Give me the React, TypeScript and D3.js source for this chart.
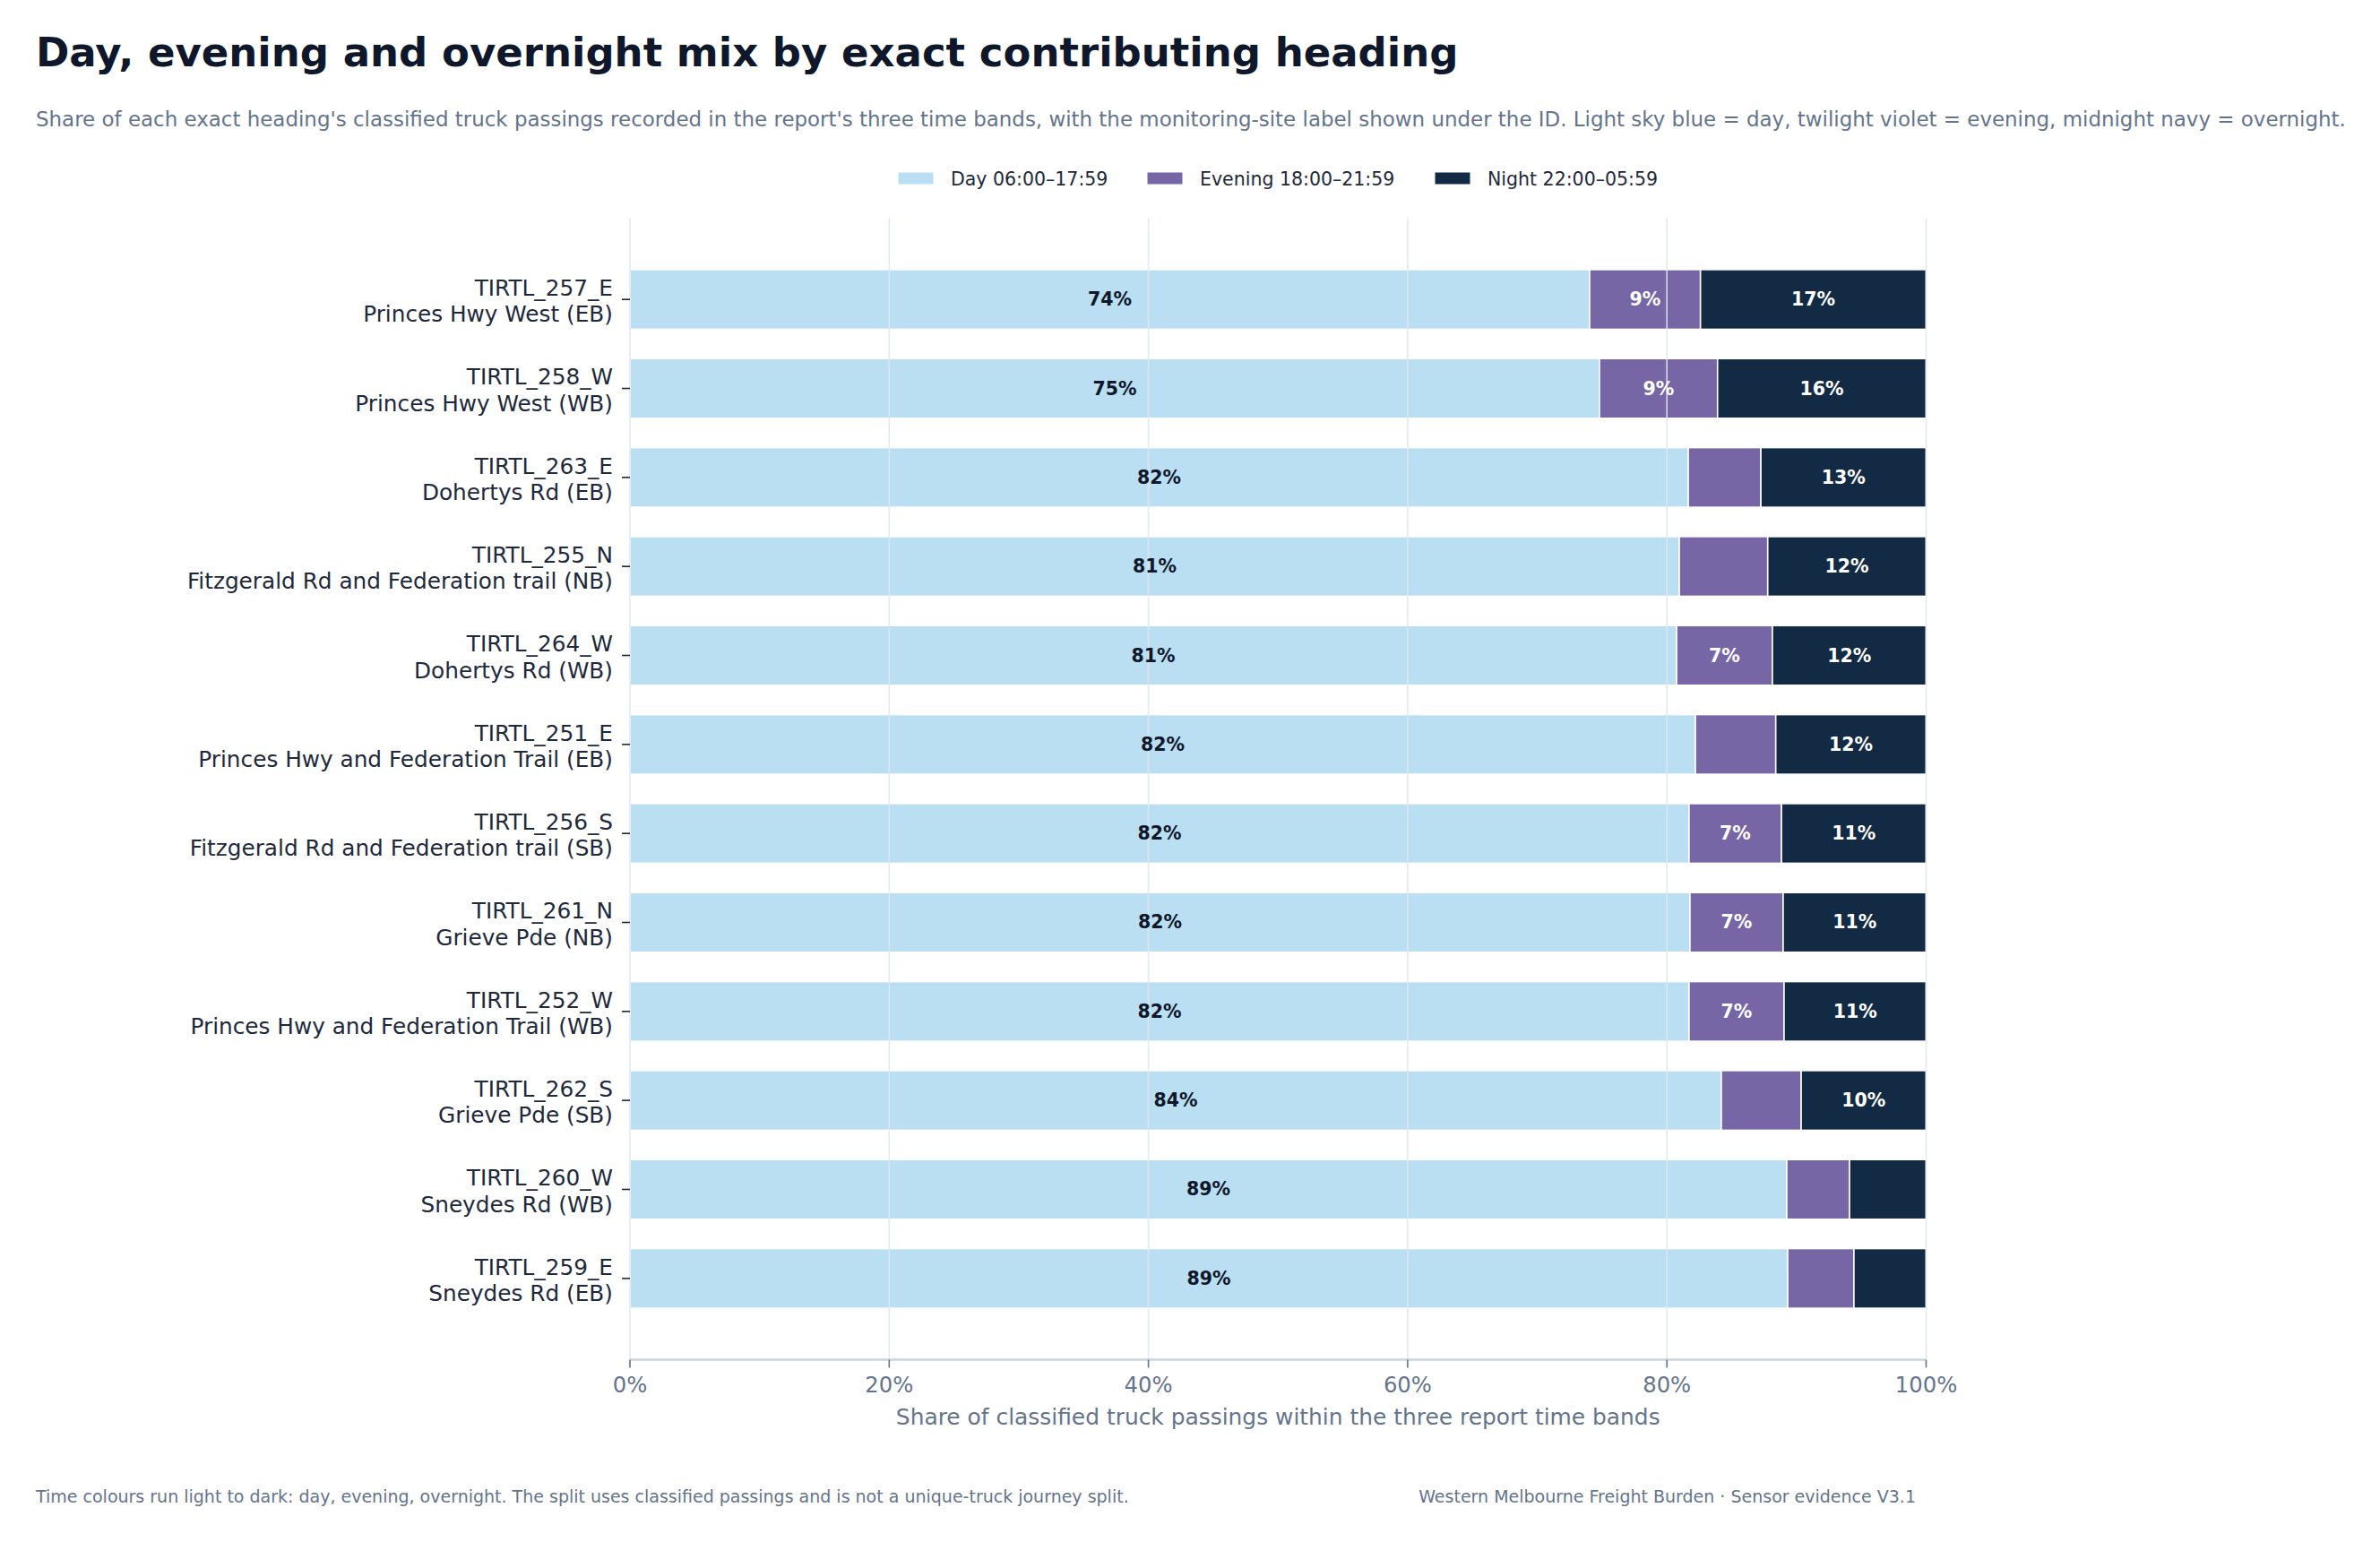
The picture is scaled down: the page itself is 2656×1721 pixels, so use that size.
import React from "react";
import * as d3 from "d3";

const ids = [
  "TIRTL_257_E", "TIRTL_258_W", "TIRTL_263_E", "TIRTL_255_N", "TIRTL_264_W", "TIRTL_251_E",
  "TIRTL_256_S", "TIRTL_261_N", "TIRTL_252_W", "TIRTL_262_S", "TIRTL_260_W", "TIRTL_259_E",
];
const sites = [
  "Princes Hwy West (EB)", "Princes Hwy West (WB)", "Dohertys Rd (EB)",
  "Fitzgerald Rd and Federation trail (NB)", "Dohertys Rd (WB)", "Princes Hwy and Federation Trail (EB)",
  "Fitzgerald Rd and Federation trail (SB)", "Grieve Pde (NB)", "Princes Hwy and Federation Trail (WB)",
  "Grieve Pde (SB)", "Sneydes Rd (WB)", "Sneydes Rd (EB)",
];
const daySeries = [74.04, 74.8, 81.65, 80.96, 80.75, 82.2, 81.71, 81.78, 81.71, 84.2, 89.25, 89.32];
const eveningSeries = [8.55, 9.11, 5.6, 6.82, 7.39, 6.2, 7.13, 7.19, 7.33, 6.16, 4.84, 5.11];
const nightSeries = [17.41, 16.09, 12.75, 12.22, 11.86, 11.6, 11.16, 11.03, 10.96, 9.64, 5.91, 5.57];
const bandKeys = ["day", "evening", "night"];
const bandLabels = ["Day 06:00–17:59", "Evening 18:00–21:59", "Night 22:00–05:59"];
const bandColors = ["#badef2", "#7666a6", "#122a44"];
const xTicks = [0, 20, 40, 60, 80, 100];

const W = 2656;
const H = 1721;
const FONT = "DejaVu Sans, Noto Sans, sans-serif";

export default function App() {
  const table = ids.map((id, i) => ({
    id,
    site: sites[i],
    day: daySeries[i],
    evening: eveningSeries[i],
    night: nightSeries[i],
  }));
  const stack = d3.stack<any>().keys(bandKeys)(table);

  const x = d3.scaleLinear().domain([0, 100]).range([703, 2149.5]);
  const y = d3.scaleLinear().domain([-0.913, 11.913]).range([243.5, 1517.5]);
  const half = 0.335;
  const plotTop = y(-0.913);
  const plotBottom = y(11.913);

  const legendSwatchX = [1002, 1280, 1601];

  return (
    <svg
      width={W}
      height={H}
      viewBox={`0 0 ${W} ${H}`}
      style={{ position: "absolute", left: 0, top: 0, background: "#ffffff" }}
      fontFamily={FONT}
    >
      <rect x={0} y={0} width={W} height={H} fill="#ffffff" />
      <text x={40} y={74} fontSize={45} fontWeight="bold" fill="#0f172a">
        Day, evening and overnight mix by exact contributing heading
      </text>
      <text x={40} y={140.5} fontSize={22.95} fill="#64748b">
        Share of each exact heading's classified truck passings recorded in the report's three time bands, with the monitoring-site label shown under the ID. Light sky blue = day, twilight violet = evening, midnight navy = overnight.
      </text>

      {/* legend */}
      {bandLabels.map((lab, i) => (
        <g key={lab}>
          <rect
            x={legendSwatchX[i]}
            y={192}
            width={40}
            height={14}
            fill={bandColors[i]}
            stroke="#ffffff"
            strokeWidth={1}
          />
          <text x={legendSwatchX[i] + 59} y={206.5} fontSize={20.5} fill="#1e293b">
            {lab}
          </text>
        </g>
      ))}

      {/* bars */}
      {stack.map((layer, k) => (
        <g key={layer.key} fill={bandColors[k]}>
          {layer.map((d, i) => (
            <rect
              key={i}
              x={x(d[0])}
              y={y(i - half)}
              width={x(d[1]) - x(d[0])}
              height={y(i + half) - y(i - half)}
              stroke="#ffffff"
              strokeWidth={1.6}
            />
          ))}
        </g>
      ))}

      {/* gridlines on top of bars */}
      {xTicks.map((t) => (
        <line
          key={t}
          x1={x(t)}
          x2={x(t)}
          y1={plotTop}
          y2={plotBottom}
          stroke="#e2e8f0"
          strokeWidth={1.6}
          opacity={0.9}
        />
      ))}

      {/* segment labels */}
      {stack.map((layer, k) => (
        <g key={"lab" + layer.key}>
          {layer.map((d, i) => {
            const v = d[1] - d[0];
            if (v < 7) return null;
            return (
              <text
                key={i}
                x={(x(d[0]) + x(d[1])) / 2}
                y={y(i) + 7}
                textAnchor="middle"
                fontSize={20.5}
                fontWeight="bold"
                fill={k === 0 ? "#0f172a" : "#ffffff"}
              >
                {`${Math.round(v)}%`}
              </text>
            );
          })}
        </g>
      ))}

      {/* bottom spine */}
      <line x1={x(0)} x2={x(100)} y1={plotBottom} y2={plotBottom} stroke="#cbd5e1" strokeWidth={2.4} />

      {/* x ticks */}
      {xTicks.map((t) => (
        <g key={"xt" + t}>
          <line x1={x(t)} x2={x(t)} y1={plotBottom} y2={plotBottom + 9} stroke="#64748b" strokeWidth={1.6} />
          <text x={x(t)} y={1554} textAnchor="middle" fontSize={24.3} fill="#64748b">
            {`${t}%`}
          </text>
        </g>
      ))}
      <text x={(x(0) + x(100)) / 2} y={1590} textAnchor="middle" fontSize={24.9} fill="#64748b">
        Share of classified truck passings within the three report time bands
      </text>

      {/* y ticks and labels */}
      {table.map((d, i) => (
        <g key={"y" + d.id}>
          <line x1={x(0) - 9} x2={x(0)} y1={y(i)} y2={y(i)} stroke="#1e293b" strokeWidth={1.6} />
          <text x={684} y={y(i) - 4.3} textAnchor="end" fontSize={24.75} fill="#1e293b">
            {d.id}
          </text>
          <text x={684} y={y(i) + 25.3} textAnchor="end" fontSize={24.75} fill="#1e293b">
            {d.site}
          </text>
        </g>
      ))}

      {/* footer */}
      <text x={40} y={1676.5} fontSize={19} fill="#64748b">
        Time colours run light to dark: day, evening, overnight. The split uses classified passings and is not a unique-truck journey split.
      </text>
      <text x={2138} y={1676.5} textAnchor="end" fontSize={19} fill="#64748b">
        Western Melbourne Freight Burden · Sensor evidence V3.1
      </text>
    </svg>
  );
}
